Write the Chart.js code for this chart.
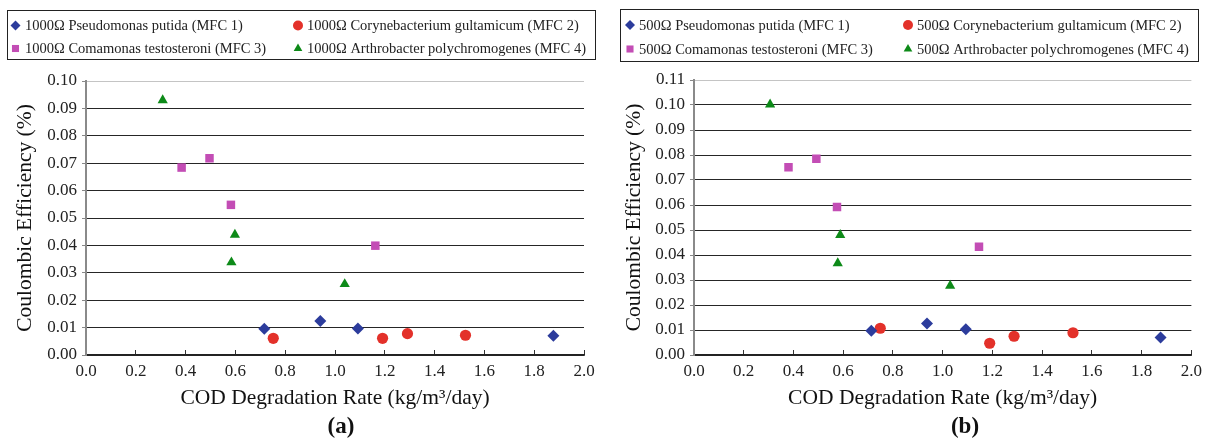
<!DOCTYPE html>
<html>
<head>
<meta charset="utf-8">
<script src="https://cdn.jsdelivr.net/npm/chart.js@4.4.1/dist/chart.umd.min.js"></script>
<style>
  html, body { margin: 0; padding: 0; background: #fff; }
  #wrap { position: relative; width: 1213px; height: 440px; }
  .panel { position: absolute; top: 0; height: 440px; }
</style>
</head>
<body>
<div id="wrap">
  <div class="panel" style="left:0;width:606px"><canvas id="chartA" width="606" height="440"></canvas></div>
  <div class="panel" style="left:606px;width:607px"><canvas id="chartB" width="607" height="440"></canvas></div>
</div>
<script>
// COD degradation rate (kg/m3/day) vs coulombic efficiency (%), 1000 ohm load
const codPutida1000 = [0.716, 0.941, 1.092, 1.877]
const cePutida1000 = [0.0096, 0.0124, 0.0097, 0.0070]
const codGlutamicum1000 = [0.752, 1.191, 1.291, 1.524]
const ceGlutamicum1000 = [0.0061, 0.0061, 0.0078, 0.0072]
const codTestosteroni1000 = [0.384, 0.496, 0.582, 1.162]
const ceTestosteroni1000 = [0.0684, 0.0718, 0.0548, 0.0399]
const codArthro1000 = [0.308, 0.598, 0.584, 1.039]
const ceArthro1000 = [0.0930, 0.0439, 0.0338, 0.0259]

// same reactors, 500 ohm load
const codPutida500 = [0.713, 0.937, 1.093, 1.876]
const cePutida500 = [0.0097, 0.0126, 0.0103, 0.0070]
const codGlutamicum500 = [0.749, 1.189, 1.287, 1.524]
const ceGlutamicum500 = [0.0107, 0.0047, 0.0075, 0.0089]
const codTestosteroni500 = [0.380, 0.492, 0.575, 1.146]
const ceTestosteroni500 = [0.0751, 0.0785, 0.0592, 0.0433]
const codArthro500 = [0.306, 0.588, 0.578, 1.030]
const ceArthro500 = [0.1002, 0.0480, 0.0367, 0.0277]

const strainNames = [
  'Pseudomonas putida (MFC 1)',
  'Corynebacterium gultamicum (MFC 2)',
  'Comamonas testosteroni (MFC 3)',
  'Arthrobacter polychromogenes (MFC 4)'
]
const xTicksMax = 2.0
const xTickStep = 0.2
const yTickStep = 0.01

const serif = '"Liberation Serif", "Times New Roman", serif'
Chart.defaults.font.family = serif
Chart.defaults.color = '#222'

const markers = [
  { style: 'rectRot', color: '#2c3c9c', radius: 6 },
  { style: 'circle', color: '#e3312a', radius: 5.6 },
  { style: 'rect', color: '#c34db5', radius: 6 },
  { style: 'triangle', color: '#0d8a18', radius: 5.9 }
]

function pairs (xs, ys) {
  return xs.map((x, i) => ({ x, y: ys[i] }))
}

function buildDatasets (load, series) {
  return series.map((s, i) => ({
    label: load + 'Ω ' + strainNames[i],
    data: pairs(s[0], s[1]),
    pointStyle: markers[i].style,
    pointRadius: markers[i].radius,
    pointHoverRadius: markers[i].radius,
    pointBorderWidth: 0,
    backgroundColor: markers[i].color,
    borderColor: markers[i].color,
    showLine: false
  }))
}

// legend frame, legend rows and the panel tag
const panelDecor = {
  id: 'panelDecor',
  afterDraw (chart, args, opts) {
    const ctx = chart.ctx
    ctx.save()
    const [bx, by, bw, bh] = opts.box
    ctx.strokeStyle = '#222'
    ctx.lineWidth = 1
    ctx.strokeRect(bx + 0.5, by + 0.5, bw, bh)

    ctx.font = '14.5px ' + serif
    ctx.textBaseline = 'middle'
    ctx.textAlign = 'left'
    chart.data.datasets.forEach((ds, i) => {
      const col = i % 2
      const row = Math.floor(i / 2)
      const y = opts.rowY[row]
      ctx.fillStyle = ds.backgroundColor
      ctx.strokeStyle = ds.backgroundColor
      Chart.helpers.drawPoint(ctx, { pointStyle: ds.pointStyle, radius: 5, rotation: 0, borderWidth: 0 }, opts.markerX[col], y)
      ctx.fillStyle = '#222'
      ctx.fillText(ds.label, opts.textX[col], y + 1)
    })

    ctx.font = 'bold 23px ' + serif
    ctx.textAlign = 'center'
    ctx.textBaseline = 'middle'
    ctx.fillStyle = '#111'
    ctx.fillText(opts.tag, opts.tagX, opts.tagY)
    ctx.restore()
  }
}

function makeChart (canvasId, datasets, yMax, geo) {
  return new Chart(document.getElementById(canvasId), {
    type: 'scatter',
    data: { datasets },
    plugins: [panelDecor],
    options: {
      responsive: false,
      animation: false,
      layout: { padding: { top: geo.top, right: geo.right, bottom: 0, left: 0 } },
      plugins: {
        legend: { display: false },
        tooltip: { enabled: false },
        panelDecor: geo.decor
      },
      scales: {
        x: {
          type: 'linear',
          min: 0,
          max: xTicksMax,
          afterFit: (scale) => { scale.height = 440 - geo.bottom },
          ticks: {
            stepSize: xTickStep,
            padding: 11,
            font: { size: 17 },
            color: '#222',
            maxRotation: 0,
            callback: (v) => Number(v).toFixed(1)
          },
          grid: {
            drawOnChartArea: false,
            drawTicks: true,
            tickLength: -5,
            tickColor: '#333',
            lineWidth: 1
          },
          border: { color: '#222', width: 1.5 },
          title: {
            display: true,
            text: 'COD Degradation Rate (kg/m³/day)',
            font: { size: 21.5 },
            color: '#111',
            padding: { top: 0, bottom: 29 }
          }
        },
        y: {
          min: 0,
          max: yMax,
          afterFit: (scale) => { scale.width = geo.left },
          afterBuildTicks: (scale) => {
            const ticks = []
            for (let i = 0; i <= Math.round(yMax / yTickStep); i++) ticks.push({ value: +(i * yTickStep).toFixed(2) })
            scale.ticks = ticks
          },
          ticks: {
            padding: 5,
            font: { size: 17 },
            color: '#222',
            callback: (v) => Number(v).toFixed(2)
          },
          grid: {
            color: (c) => (c.index === c.chart.scales.y.ticks.length - 1 ? '#c4c4c4' : '#262626'),
            tickColor: '#888',
            tickLength: 4,
            lineWidth: 1
          },
          border: { color: '#8a8a8a', width: 2 },
          title: {
            display: true,
            text: 'Coulombic Efficiency (%)',
            font: { size: 21.5 },
            color: '#111',
            padding: { top: geo.yTitlePad, bottom: 0 }
          }
        }
      }
    }
  })
}

makeChart('chartA', buildDatasets('1000', [
  [codPutida1000, cePutida1000],
  [codGlutamicum1000, ceGlutamicum1000],
  [codTestosteroni1000, ceTestosteroni1000],
  [codArthro1000, ceArthro1000]
]), 0.10, {
  top: 81, right: 22, bottom: 355, left: 86, yTitlePad: 12,
  decor: {
    box: [7, 10, 588, 49],
    rowY: [25.5, 48.5],
    markerX: [15.5, 298],
    textX: [25, 307],
    tag: '(a)', tagX: 341, tagY: 427
  }
})

makeChart('chartB', buildDatasets('500', [
  [codPutida500, cePutida500],
  [codGlutamicum500, ceGlutamicum500],
  [codTestosteroni500, ceTestosteroni500],
  [codArthro500, ceArthro500]
]), 0.11, {
  top: 80, right: 16, bottom: 355, left: 88, yTitlePad: 15,
  decor: {
    box: [14, 9, 578, 52],
    rowY: [25, 49],
    markerX: [24, 302],
    textX: [33, 311],
    tag: '(b)', tagX: 359, tagY: 427
  }
})
</script>
</body>
</html>
